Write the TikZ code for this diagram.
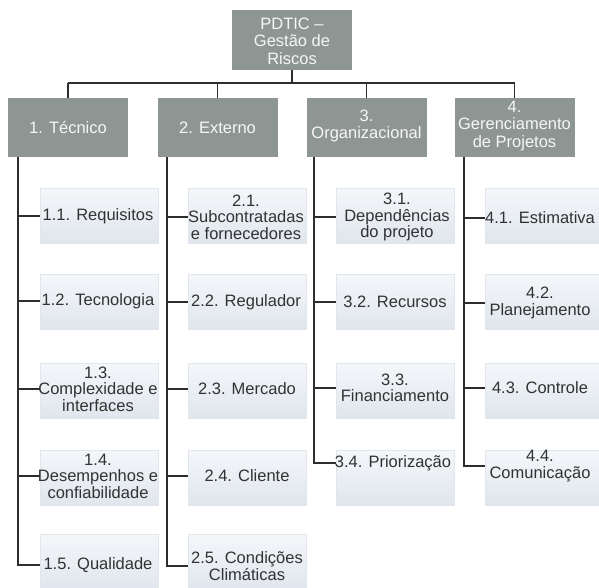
\documentclass[tikz,border=0pt]{standalone}
\usepackage{fontspec}
\setmainfont{Liberation Sans}
\definecolor{catgray}{RGB}{142,150,148}
\definecolor{cattext}{RGB}{246,246,246}
\definecolor{leaftop}{RGB}{244,247,250}
\definecolor{leafbot}{RGB}{224,230,237}
\definecolor{leafedge}{RGB}{226,230,235}
\definecolor{leaftext}{RGB}{50,50,50}
\definecolor{linecol}{RGB}{45,45,45}
\begin{document}
\begin{tikzpicture}[x=1pt,y=-1pt,
  catbox/.style={fill=catgray, minimum width=120pt, minimum height=59pt, inner sep=0pt},
  cattxt/.style={text=cattext, align=center, inner sep=0pt, font=\fontsize{16.5}{17.5}\selectfont},
  leafbox/.style={top color=leaftop, bottom color=leafbot, draw=leafedge, line width=0.6pt, minimum width=118pt, minimum height=55pt, inner sep=0pt},
  leaftxt/.style={text=leaftext, align=center, inner sep=0pt, font=\fontsize{16.5}{16.5}\selectfont},
  conn/.style={draw=linecol, line width=1.9pt}]
\useasboundingbox[fill=white] (0,0) rectangle (599,587);

% top
\node[catbox, minimum height=60pt] (top) at (292,40) {};
\node[cattxt] (ttop) at (292,41) {PDTIC –\\Gestão de\\Riscos};

% categories
\node[catbox] (c1) at (68,127.5) {};
\node[cattxt] (tc1) at (68,128) {1. Técnico};
\node[catbox] (c2) at (217.5,127.5) {};
\node[cattxt] (tc2) at (217.5,128) {2. Externo};
\node[catbox] (c3) at (366.5,127.5) {};
\node[cattxt] (tc3) at (366.5,126) {3.\\Organizacional};
\node[catbox] (c4) at (514.5,127.5) {};
\node[cattxt] (tc4) at (514.5,126) {4.\\Gerenciamento\\de Projetos};

% leaves column 1
\node[leafbox] (b11) at (99,215.5) {};
\node[leaftxt] (t11) at (98,216) {1.1. Requisitos};
\node[leafbox] (b12) at (99,301.5) {};
\node[leaftxt] (t12) at (98,301) {1.2. Tecnologia};
\node[leafbox] (b13) at (99,390.5) {};
\node[leaftxt] (t13) at (98,389) {1.3.\\Complexidade e\\interfaces};
\node[leafbox] (b14) at (99,477.5) {};
\node[leaftxt] (t14) at (98,476) {1.4.\\Desempenhos e\\confiabilidade};
\node[leafbox] (b15) at (99,562) {};
\node[leaftxt] (t15) at (98,565) {1.5. Qualidade};

% leaves column 2
\node[leafbox] (b21) at (247.5,215.5) {};
\node[leaftxt] (t21) at (246,217) {2.1.\\Subcontratadas\\e fornecedores};
\node[leafbox] (b22) at (247.5,301.5) {};
\node[leaftxt] (t22) at (246,302) {2.2. Regulador};
\node[leafbox] (b23) at (247.5,390.5) {};
\node[leaftxt] (t23) at (247,389) {2.3. Mercado};
\node[leafbox] (b24) at (247.5,477.5) {};
\node[leaftxt] (t24) at (247,476) {2.4. Cliente};
\node[leafbox] (b25) at (247.5,562) {};
\node[leaftxt] (t25) at (247,566) {2.5. Condições\\Climáticas};

% leaves column 3
\node[leafbox] (b31) at (395,215.5) {};
\node[leaftxt] (t31) at (397,217) {3.1.\\Dependências\\do projeto};
\node[leafbox] (b32) at (395,301.5) {};
\node[leaftxt] (t32) at (395,302) {3.2. Recursos};
\node[leafbox] (b33) at (395,390.5) {};
\node[leaftxt] (t33) at (395,388) {3.3.\\Financiamento};
\node[leafbox] (b34) at (395,477.5) {};
\node[leaftxt] (t34) at (393,463) {3.4. Priorização};

% leaves column 4
\node[leafbox] (b41) at (544,215.5) {};
\node[leaftxt] (t41) at (540,218) {4.1. Estimativa};
\node[leafbox] (b42) at (544,301.5) {};
\node[leaftxt] (t42) at (540,303) {4.2.\\Planejamento};
\node[leafbox] (b43) at (544,390.5) {};
\node[leaftxt] (t43) at (540,388) {4.3. Controle};
\node[leafbox] (b44) at (544,477.5) {};
\node[leaftxt] (t44) at (540,466) {4.4.\\Comunicação};

% top connectors
\coordinate (bar) at (292,83);
\draw[conn] (top.south) -- (bar);
\draw[conn] (c1.north |- bar) -- (c4.north |- bar);
\draw[conn] (c1.north |- bar) -- (c1.north);
\draw[conn] (c2.north |- bar) -- (c2.north);
\draw[conn] (c3.north |- bar) -- (c3.north);
\draw[conn] (c4.north |- bar) -- (c4.north);

% spines
\coordinate (s1) at ([xshift=10pt]c1.south west);
\coordinate (s2) at ([xshift=10pt]c2.south west);
\coordinate (s3) at ([xshift=8pt]c3.south west);
\coordinate (s4) at ([xshift=10pt]c4.south west);

\draw[conn] (s1) |- (t15 -| b15.west);
\draw[conn] (t11 -| s1) -- (t11 -| b11.west);
\draw[conn] (t12 -| s1) -- (t12 -| b12.west);
\draw[conn] (t13 -| s1) -- (t13 -| b13.west);
\draw[conn] (t14 -| s1) -- (t14 -| b14.west);

\draw[conn] (s2) |- (t25 -| b25.west);
\draw[conn] (t21 -| s2) -- (t21 -| b21.west);
\draw[conn] (t22 -| s2) -- (t22 -| b22.west);
\draw[conn] (t23 -| s2) -- (t23 -| b23.west);
\draw[conn] (t24 -| s2) -- (t24 -| b24.west);

\draw[conn] (s3) |- (t34 -| b34.west);
\draw[conn] (t31 -| s3) -- (t31 -| b31.west);
\draw[conn] (t32 -| s3) -- (t32 -| b32.west);
\draw[conn] (t33 -| s3) -- (t33 -| b33.west);

\draw[conn] (s4) |- (t44 -| b44.west);
\draw[conn] (t41 -| s4) -- (t41 -| b41.west);
\draw[conn] (t42 -| s4) -- (t42 -| b42.west);
\draw[conn] (t43 -| s4) -- (t43 -| b43.west);
\end{tikzpicture}
\end{document}
